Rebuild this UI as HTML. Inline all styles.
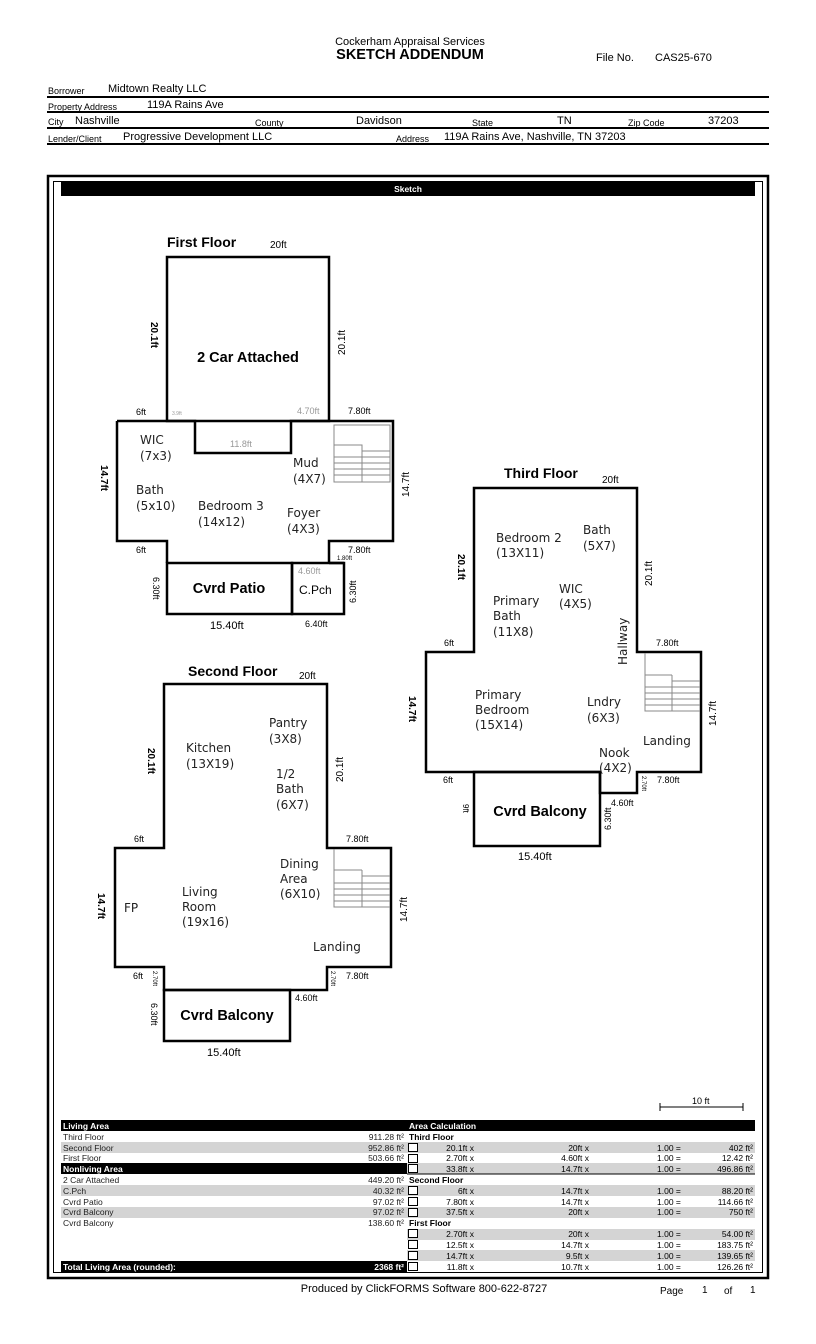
<!DOCTYPE html>
<html><head><meta charset="utf-8"><style>
html,body{margin:0;padding:0;background:#fff}
svg{display:block}
text{font-family:"Liberation Sans",sans-serif;fill:#000}
.r{font-family:"DejaVu Sans",sans-serif;font-size:12px;fill:#222}
.d{font-size:9px}
.g{fill:#999}
.w{fill:none;stroke:#000;stroke-width:2.5}
.s{fill:none;stroke:#888;stroke-width:1}
.t{font-size:8.5px;fill:#222}
.tb{font-size:8.5px;font-weight:bold}
</style></head><body>
<svg width="816" height="1344" viewBox="0 0 816 1344" xmlns="http://www.w3.org/2000/svg">
<!-- header -->
<text x="410" y="45" font-size="11" text-anchor="middle">Cockerham Appraisal Services</text>
<text x="410" y="59" font-size="14.5" font-weight="bold" text-anchor="middle">SKETCH ADDENDUM</text>
<text x="596" y="61" font-size="11">File No.</text>
<text x="655" y="61" font-size="11">CAS25-670</text>
<g font-size="10">
<text x="48" y="94" font-size="9">Borrower</text><text x="108" y="92" font-size="11">Midtown Realty LLC</text>
<text x="48" y="110" font-size="9">Property Address</text><text x="147" y="108" font-size="11">119A Rains Ave</text>
<text x="48" y="125" font-size="9">City</text><text x="75" y="124" font-size="11">Nashville</text>
<text x="255" y="126" font-size="9">County</text><text x="356" y="124" font-size="11">Davidson</text>
<text x="472" y="126" font-size="9">State</text><text x="557" y="124" font-size="11">TN</text>
<text x="628" y="126" font-size="9">Zip Code</text><text x="708" y="124" font-size="11">37203</text>
<text x="48" y="142" font-size="9">Lender/Client</text><text x="123" y="140" font-size="11">Progressive Development LLC</text>
<text x="396" y="142" font-size="9">Address</text><text x="444" y="140" font-size="11">119A Rains Ave, Nashville, TN 37203</text>
</g>
<g stroke="#000" stroke-width="2">
<line x1="47" y1="97" x2="769" y2="97"/><line x1="47" y1="112" x2="769" y2="112"/>
<line x1="47" y1="128" x2="769" y2="128"/><line x1="47" y1="144" x2="769" y2="144"/>
</g>
<!-- frame -->
<rect x="48" y="176" width="720" height="1102" fill="none" stroke="#000" stroke-width="2.5"/>
<rect x="53.5" y="181.5" width="709" height="1091" fill="none" stroke="#000" stroke-width="1"/>
<rect x="61" y="181" width="694" height="15" fill="#000"/>
<text x="408" y="192" font-size="8.5" font-weight="bold" text-anchor="middle" style="fill:#fff">Sketch</text>

<!-- FIRST FLOOR -->
<text x="167" y="247" font-size="14" font-weight="bold">First Floor</text>
<text x="270" y="248" font-size="10">20ft</text>
<rect x="167" y="257" width="162" height="164" class="w"/>
<text x="248" y="362" font-size="14.5" font-weight="bold" text-anchor="middle">2 Car Attached</text>
<text font-size="10" font-weight="bold" transform="translate(151,322) rotate(90)">20.1ft</text>
<text font-size="10" transform="translate(345,355) rotate(-90)">20.1ft</text>
<path class="w" d="M117,421 H195 V453 H291 V421 H393 V541 H329 V563 M167,563 V541 H117 V421"/>
<rect x="167" y="563" width="125" height="51" class="w"/>
<rect x="292" y="563" width="52" height="51" class="w"/>
<line x1="329" y1="563" x2="344" y2="563" stroke="#000" stroke-width="2.5"/>
<g class="s"><rect x="334" y="425" width="56" height="57"/><path d="M334,445 H362 V482 M362,451 H390 M334,457 H390 M334,463 H390 M334,469 H390 M334,475 H390"/></g>
<text x="136" y="415" class="d">6ft</text><text x="172" y="415" font-size="5" class="g">3.9ft</text>
<text x="297" y="414" class="d g">4.70ft</text><text x="348" y="414" class="d">7.80ft</text>
<text x="230" y="447" class="d g">11.8ft</text>
<text x="140" y="444" class="r">WIC</text><text x="140" y="460" class="r">(7x3)</text>
<text x="136" y="494" class="r">Bath</text><text x="136" y="510" class="r">(5x10)</text>
<text x="198" y="510" class="r">Bedroom 3</text><text x="198" y="526" class="r">(14x12)</text>
<text x="293" y="467" class="r">Mud</text><text x="293" y="483" class="r">(4X7)</text>
<text x="287" y="517" class="r">Foyer</text><text x="287" y="533" class="r">(4X3)</text>
<text font-size="10" font-weight="bold" transform="translate(101,465) rotate(90)">14.7ft</text>
<text font-size="10" transform="translate(409,497) rotate(-90)">14.7ft</text>
<text x="136" y="553" class="d">6ft</text><text x="348" y="553" class="d">7.80ft</text>
<text x="337" y="560" font-size="6">1.80ft</text>
<text x="298" y="574" class="d g">4.60ft</text>
<text font-size="9" transform="translate(153,577) rotate(90)">6.30ft</text>
<text font-size="9" transform="translate(356,603) rotate(-90)">6.30ft</text>
<text x="229" y="593" font-size="14.5" font-weight="bold" text-anchor="middle">Cvrd Patio</text>
<text x="299" y="594" font-size="12">C.Pch</text>
<text x="210" y="629" font-size="11">15.40ft</text><text x="305" y="627" class="d">6.40ft</text>

<!-- SECOND FLOOR -->
<text x="188" y="676" font-size="14" font-weight="bold">Second Floor</text>
<text x="299" y="679" font-size="10">20ft</text>
<path class="w" d="M164,848 V684 H327 V848 H391 V967 H327 V990 H164 V967 H115 V848 Z"/>
<rect x="164" y="990" width="126" height="51" class="w"/>
<g class="s"><path d="M334,849 V907 H390 M362,870 V907 M334,870 H362 M362,876 H390 M334,883 H390 M334,889 H390 M334,895 H390 M334,901 H390"/></g>
<text font-size="10" font-weight="bold" transform="translate(148,748) rotate(90)">20.1ft</text>
<text font-size="10" transform="translate(343,782) rotate(-90)">20.1ft</text>
<text x="269" y="727" class="r">Pantry</text><text x="269" y="743" class="r">(3X8)</text>
<text x="186" y="752" class="r">Kitchen</text><text x="186" y="768" class="r">(13X19)</text>
<text x="276" y="778" class="r">1/2</text><text x="276" y="793" class="r">Bath</text><text x="276" y="809" class="r">(6X7)</text>
<text x="134" y="842" class="d">6ft</text><text x="346" y="842" class="d">7.80ft</text>
<text x="280" y="868" class="r">Dining</text><text x="280" y="883" class="r">Area</text><text x="280" y="898" class="r">(6X10)</text>
<text x="182" y="896" class="r">Living</text><text x="182" y="911" class="r">Room</text><text x="182" y="926" class="r">(19x16)</text>
<text x="124" y="912" class="r">FP</text>
<text x="313" y="951" class="r">Landing</text>
<text font-size="10" font-weight="bold" transform="translate(98,893) rotate(90)">14.7ft</text>
<text font-size="10" transform="translate(407,922) rotate(-90)">14.7ft</text>
<text x="133" y="979" class="d">6ft</text><text x="346" y="979" class="d">7.80ft</text>
<text font-size="6" transform="translate(153,971) rotate(90)">2.70ft</text>
<text font-size="6" transform="translate(331,971) rotate(90)">2.70ft</text>
<text x="295" y="1001" class="d">4.60ft</text>
<text font-size="9" transform="translate(151,1003) rotate(90)">6.30ft</text>
<text x="227" y="1020" font-size="14.5" font-weight="bold" text-anchor="middle">Cvrd Balcony</text>
<text x="207" y="1056" font-size="11">15.40ft</text>

<!-- THIRD FLOOR -->
<text x="504" y="478" font-size="14" font-weight="bold">Third Floor</text>
<text x="602" y="483" font-size="10">20ft</text>
<path class="w" d="M474,652 V488 H637 V652 H701 V772 H637 V793 H600 V772 H426 V652 Z"/>
<rect x="474" y="772" width="126" height="74" class="w"/>
<g class="s"><path d="M645,653 V711 H700 M672,675 V711 M645,675 H672 M672,681 H700 M645,687 H700 M645,693 H700 M645,699 H700 M645,705 H700"/></g>
<text font-size="10" font-weight="bold" transform="translate(458,554) rotate(90)">20.1ft</text>
<text font-size="10" transform="translate(652,586) rotate(-90)">20.1ft</text>
<text x="496" y="542" class="r">Bedroom 2</text><text x="496" y="557" class="r">(13X11)</text>
<text x="583" y="534" class="r">Bath</text><text x="583" y="550" class="r">(5X7)</text>
<text x="559" y="593" class="r">WIC</text><text x="559" y="608" class="r">(4X5)</text>
<text x="493" y="605" class="r">Primary</text><text x="493" y="620" class="r">Bath</text><text x="493" y="636" class="r">(11X8)</text>
<text class="r" transform="translate(627,665) rotate(-90)">Hallway</text>
<text x="444" y="646" class="d">6ft</text><text x="656" y="646" class="d">7.80ft</text>
<text x="475" y="699" class="r">Primary</text><text x="475" y="714" class="r">Bedroom</text><text x="475" y="729" class="r">(15X14)</text>
<text x="587" y="706" class="r">Lndry</text><text x="587" y="722" class="r">(6X3)</text>
<text x="643" y="745" class="r">Landing</text>
<text x="599" y="757" class="r">Nook</text><text x="599" y="772" class="r">(4X2)</text>
<text font-size="10" font-weight="bold" transform="translate(409,696) rotate(90)">14.7ft</text>
<text font-size="10" transform="translate(716,726) rotate(-90)">14.7ft</text>
<text x="443" y="783" class="d">6ft</text><text x="657" y="783" class="d">7.80ft</text>
<text font-size="6" transform="translate(642,776) rotate(90)">2.70ft</text>
<text x="611" y="806" class="d">4.60ft</text>
<text font-size="8" transform="translate(463,804) rotate(90)">9ft</text>
<text font-size="9" transform="translate(611,830) rotate(-90)">6.30ft</text>
<text x="540" y="816" font-size="14.5" font-weight="bold" text-anchor="middle">Cvrd Balcony</text>
<text x="518" y="860" font-size="11">15.40ft</text>

<!-- scale -->
<text x="692" y="1104" font-size="9">10 ft</text>
<path d="M660,1107 H743 M660,1103 V1111 M743,1103 V1111" stroke="#000" stroke-width="1"/>

<!-- table -->
<g>
<rect x="61" y="1120" width="694" height="11" fill="#000"/>
<rect x="61" y="1142" width="694" height="11" fill="#d4d4d4"/>
<rect x="61" y="1163" width="346" height="11" fill="#000"/><rect x="407" y="1163" width="348" height="11" fill="#d4d4d4"/>
<rect x="61" y="1185" width="694" height="11" fill="#d4d4d4"/>
<rect x="61" y="1207" width="694" height="11" fill="#d4d4d4"/>
<rect x="407" y="1229" width="348" height="11" fill="#d4d4d4"/>
<rect x="407" y="1250" width="348" height="11" fill="#d4d4d4"/>
<rect x="61" y="1261" width="346" height="11" fill="#000"/>
<line x1="407" y1="1174" x2="755" y2="1174" stroke="#000" stroke-width="1"/>
</g>
<g class="t">
<text x="63" y="1129" class="tb" style="fill:#fff">Living Area</text>
<text x="409" y="1129" class="tb" style="fill:#fff">Area Calculation</text>
<text x="63" y="1140" class="t">Third Floor</text><text x="404" y="1140" class="t" text-anchor="end">911.28 ft²</text>
<text x="63" y="1151" class="t">Second Floor</text><text x="404" y="1151" class="t" text-anchor="end">952.86 ft²</text>
<text x="63" y="1161" class="t">First Floor</text><text x="404" y="1161" class="t" text-anchor="end">503.66 ft²</text>
<text x="63" y="1172" class="tb" style="fill:#fff">Nonliving Area</text>
<text x="63" y="1183" class="t">2 Car Attached</text><text x="404" y="1183" class="t" text-anchor="end">449.20 ft²</text>
<text x="63" y="1194" class="t">C.Pch</text><text x="404" y="1194" class="t" text-anchor="end">40.32 ft²</text>
<text x="63" y="1205" class="t">Cvrd Patio</text><text x="404" y="1205" class="t" text-anchor="end">97.02 ft²</text>
<text x="63" y="1215" class="t">Cvrd Balcony</text><text x="404" y="1215" class="t" text-anchor="end">97.02 ft²</text>
<text x="63" y="1226" class="t">Cvrd Balcony</text><text x="404" y="1226" class="t" text-anchor="end">138.60 ft²</text>
<text x="63" y="1270" class="tb" style="fill:#fff">Total Living Area (rounded):</text>
<text x="404" y="1270" class="tb" text-anchor="end" style="fill:#fff">2368 ft²</text>
<text x="409" y="1140" class="tb">Third Floor</text>
<text x="409" y="1183" class="tb">Second Floor</text>
<text x="409" y="1226" class="tb">First Floor</text>
</g>
<g fill="#fff" stroke="#000" stroke-width="1">
<rect x="408.5" y="1143.5" width="9" height="8"/><rect x="408.5" y="1154.5" width="9" height="8"/><rect x="408.5" y="1164.5" width="9" height="8"/>
<rect x="408.5" y="1186.5" width="9" height="8"/><rect x="408.5" y="1197.5" width="9" height="8"/><rect x="408.5" y="1208.5" width="9" height="8"/>
<rect x="408.5" y="1229.5" width="9" height="8"/><rect x="408.5" y="1240.5" width="9" height="8"/><rect x="408.5" y="1251.5" width="9" height="8"/><rect x="408.5" y="1262.5" width="9" height="8"/>
</g>
<g class="t">
<text x="474" y="1151" text-anchor="end">20.1ft x</text><text x="589" y="1151" text-anchor="end">20ft x</text><text x="657" y="1151">1.00 =</text><text x="753" y="1151" text-anchor="end">402 ft²</text>
<text x="474" y="1161" text-anchor="end">2.70ft x</text><text x="589" y="1161" text-anchor="end">4.60ft x</text><text x="657" y="1161">1.00 =</text><text x="753" y="1161" text-anchor="end">12.42 ft²</text>
<text x="474" y="1172" text-anchor="end">33.8ft x</text><text x="589" y="1172" text-anchor="end">14.7ft x</text><text x="657" y="1172">1.00 =</text><text x="753" y="1172" text-anchor="end">496.86 ft²</text>
<text x="474" y="1194" text-anchor="end">6ft x</text><text x="589" y="1194" text-anchor="end">14.7ft x</text><text x="657" y="1194">1.00 =</text><text x="753" y="1194" text-anchor="end">88.20 ft²</text>
<text x="474" y="1205" text-anchor="end">7.80ft x</text><text x="589" y="1205" text-anchor="end">14.7ft x</text><text x="657" y="1205">1.00 =</text><text x="753" y="1205" text-anchor="end">114.66 ft²</text>
<text x="474" y="1215" text-anchor="end">37.5ft x</text><text x="589" y="1215" text-anchor="end">20ft x</text><text x="657" y="1215">1.00 =</text><text x="753" y="1215" text-anchor="end">750 ft²</text>
<text x="474" y="1237" text-anchor="end">2.70ft x</text><text x="589" y="1237" text-anchor="end">20ft x</text><text x="657" y="1237">1.00 =</text><text x="753" y="1237" text-anchor="end">54.00 ft²</text>
<text x="474" y="1248" text-anchor="end">12.5ft x</text><text x="589" y="1248" text-anchor="end">14.7ft x</text><text x="657" y="1248">1.00 =</text><text x="753" y="1248" text-anchor="end">183.75 ft²</text>
<text x="474" y="1259" text-anchor="end">14.7ft x</text><text x="589" y="1259" text-anchor="end">9.5ft x</text><text x="657" y="1259">1.00 =</text><text x="753" y="1259" text-anchor="end">139.65 ft²</text>
<text x="474" y="1270" text-anchor="end">11.8ft x</text><text x="589" y="1270" text-anchor="end">10.7ft x</text><text x="657" y="1270">1.00 =</text><text x="753" y="1270" text-anchor="end">126.26 ft²</text>
</g>
<!-- footer -->
<text x="424" y="1292" font-size="11" text-anchor="middle">Produced by ClickFORMS Software 800-622-8727</text>
<text x="660" y="1294" font-size="10">Page</text><text x="702" y="1293" font-size="10">1</text><text x="724" y="1294" font-size="10">of</text><text x="750" y="1293" font-size="10">1</text>
</svg>
</body></html>
